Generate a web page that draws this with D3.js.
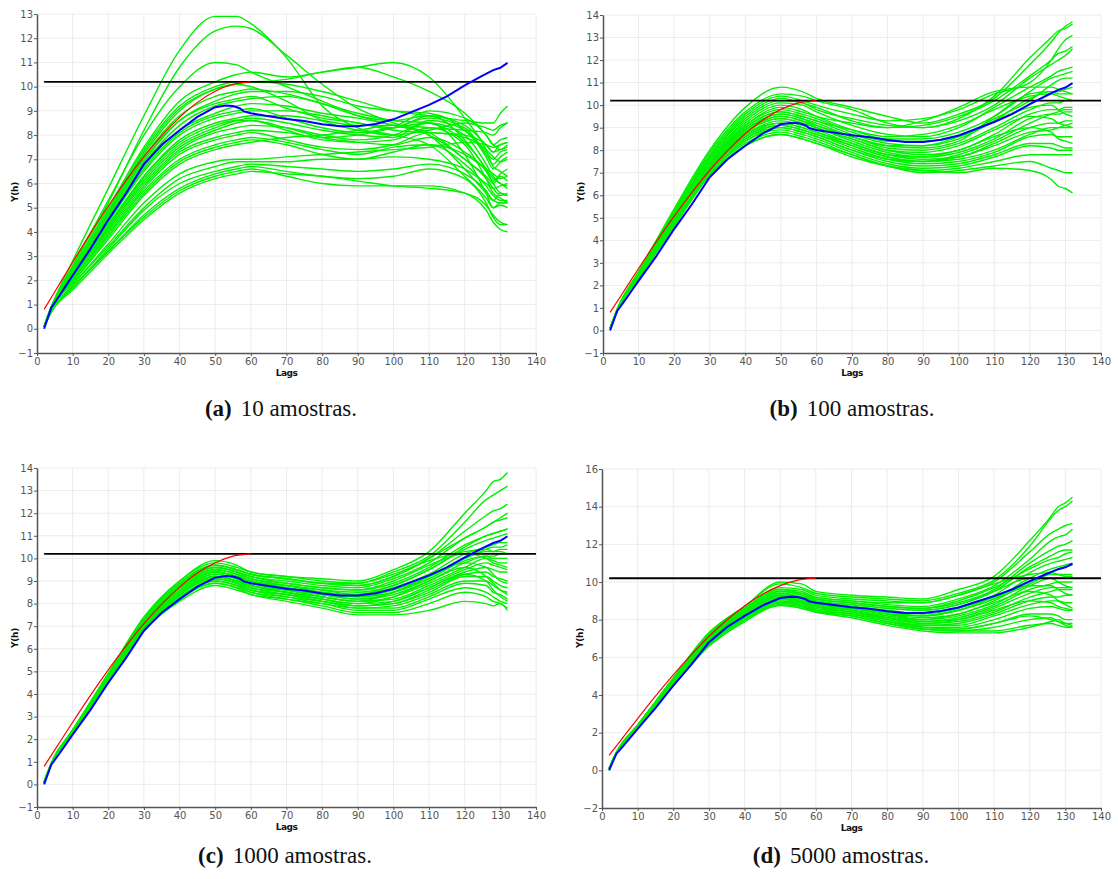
<!DOCTYPE html>
<html>
<head>
<meta charset="utf-8">
<script src="https://cdn.jsdelivr.net/npm/d3@7"></script>
<style>
  body { margin: 0; background: #fff; }
  .tick text { font-family: "DejaVu Sans", sans-serif; }
</style>
</head>
<body>
<svg id="fig" width="1118" height="879"></svg>
<script>
// Lags at which each simulated variogram is sampled
const lags = [2, 4, 10, 20, 30, 40, 50, 56, 60, 70, 80, 90, 100, 110, 120, 126, 128, 130, 132];

// Reference experimental variogram (blue)
const refLags = [2, 4, 6, 8, 10, 15, 20, 25, 30, 35, 40, 45, 50, 53, 55, 57, 58, 60, 65, 70, 75, 80, 85, 90, 95, 100, 105, 110, 115, 120, 125, 128, 130, 132];
const refGamma = [0.0, 0.87, 1.3, 1.75, 2.2, 3.3, 4.5, 5.6, 6.8, 7.6, 8.2, 8.75, 9.15, 9.22, 9.2, 9.1, 8.98, 8.9, 8.78, 8.66, 8.58, 8.45, 8.36, 8.36, 8.46, 8.65, 8.95, 9.25, 9.6, 10.05, 10.45, 10.68, 10.78, 10.98];

// Fitted model (red)
const modelLags = [2, 5, 10, 15, 20, 25, 30, 35, 40, 45, 50, 55, 60];
const modelGamma = [0.8, 1.53, 2.75, 3.94, 5.07, 6.13, 7.11, 7.98, 8.73, 9.35, 9.81, 10.1, 10.2];

// Sill (black)
const sill = 10.2;
const sillLags = [2, 140];

// Simulated variograms (green), one list per number of samples
const sims10 = [
  [0.1,0.9,2.8,5.8,8.8,11.5,12.9,12.9,12.6,11.2,9.2,8.3,8.0,7.6,6.3,5.4,5.0,5.2,5.2],
  [0.1,0.9,2.6,5.2,8.2,10.8,12.3,12.5,12.4,11.3,10.1,9.1,8.5,8.0,6.6,5.6,5.3,5.6,5.5],
  [0.1,0.9,2.6,5.3,8.0,10.0,11.0,10.9,10.6,10.0,9.4,8.8,8.4,8.1,7.0,6.3,6.0,6.3,6.1],
  [0.1,0.9,2.5,5.0,7.5,9.4,10.2,10.5,10.6,10.4,10.6,10.8,11.0,10.4,8.7,7.4,6.7,6.5,6.3],
  [0.1,0.9,2.5,4.9,7.4,9.2,10.0,10.2,10.2,10.3,10.6,10.8,10.4,9.8,8.9,8.0,7.6,7.8,7.9],
  [0.1,0.9,2.4,4.8,7.3,9.1,9.9,10.1,10.2,10.1,9.8,9.4,9.0,8.8,8.6,8.5,8.5,8.9,9.2],
  [0.1,0.9,2.4,4.8,7.2,9.0,9.9,10.1,10.0,9.4,8.6,8.2,8.0,8.2,8.5,8.3,8.2,8.4,8.5],
  [0.1,0.9,2.4,4.7,7.1,8.8,9.6,9.8,9.9,9.7,9.3,8.8,8.6,8.8,7.8,6.6,6.2,6.0,5.8],
  [0.1,0.9,2.3,4.6,6.9,8.6,9.4,9.7,9.8,9.8,9.6,9.2,9.0,8.9,8.2,7.2,6.8,7.1,7.3],
  [0.1,0.9,2.3,4.5,6.8,8.4,9.2,9.4,9.5,9.6,9.3,8.9,8.6,8.5,7.7,6.6,6.1,6.4,6.6],
  [0.1,0.8,2.2,4.4,6.5,8.0,8.7,8.9,9.0,9.0,8.8,8.5,8.3,8.8,8.4,7.6,7.3,7.6,7.7],
  [0.1,0.8,2.2,4.3,6.3,7.8,8.5,8.7,8.8,8.8,8.6,8.4,8.4,9.0,8.7,8.0,7.6,7.4,7.6],
  [0.1,0.8,2.1,4.2,6.2,7.6,8.3,8.6,8.7,8.5,8.2,8.0,7.9,8.6,8.2,7.1,6.6,6.9,7.1],
  [0.1,0.8,2.1,4.1,6.1,7.5,8.2,8.5,8.6,8.2,7.8,7.7,7.8,8.3,7.6,6.2,5.6,5.4,5.2],
  [0.1,0.8,2.1,4.1,6.0,7.4,8.1,8.3,8.4,8.3,8.0,7.8,8.0,8.5,8.0,6.8,6.3,6.0,5.9],
  [0.1,0.8,2.0,4.0,5.9,7.3,7.9,8.1,8.2,8.1,7.9,8.0,8.3,8.7,8.3,7.3,7.0,7.3,7.4],
  [0.1,0.8,2.0,3.9,5.8,7.2,7.8,8.0,8.1,7.8,7.5,7.4,7.6,8.1,7.9,7.4,7.1,6.9,7.0],
  [0.1,0.8,2.0,3.9,5.7,7.0,7.6,7.8,7.9,7.7,7.4,7.2,7.5,7.6,6.8,5.9,5.5,5.3,5.3],
  [0.1,0.8,1.9,3.8,5.6,6.9,7.5,7.7,7.8,7.6,7.2,7.0,7.3,7.6,7.2,6.6,6.4,6.2,6.3],
  [0.1,0.8,1.9,3.7,5.5,6.8,7.4,7.6,7.7,7.9,8.0,8.2,8.4,8.3,8.2,8.1,8.0,8.3,8.5],
  [0.1,0.7,1.8,3.5,5.2,6.4,6.9,7.0,7.0,7.1,7.2,7.3,7.4,7.5,7.7,7.6,7.5,7.6,7.7],
  [0.1,0.7,1.8,3.4,5.0,6.2,6.7,6.9,6.9,6.9,7.0,7.0,7.1,7.0,6.6,6.0,5.8,5.9,6.0],
  [0.1,0.7,1.7,3.3,4.9,6.0,6.5,6.7,6.8,6.7,6.6,6.5,6.6,6.8,6.4,5.7,5.3,5.2,5.2],
  [0.1,0.7,1.7,3.2,4.7,5.8,6.4,6.6,6.7,6.5,6.3,6.2,6.3,6.6,6.2,5.2,4.6,4.3,4.3],
  [0.1,0.7,1.7,3.2,4.6,5.7,6.3,6.5,6.6,6.3,6.0,5.9,5.9,5.9,5.6,4.9,4.4,4.1,4.0],
  [0.1,0.7,1.6,3.1,4.5,5.6,6.2,6.4,6.5,6.4,6.3,6.1,5.9,5.8,5.6,5.1,4.7,4.4,4.3],
  [0.1,0.8,2.2,4.4,6.6,8.1,8.8,9.0,9.1,8.7,8.3,8.1,8.3,8.5,7.2,5.6,5.0,5.1,5.0],
  [0.1,0.8,2.3,4.5,6.7,8.2,8.9,9.2,9.3,9.2,8.9,8.7,8.4,8.0,7.0,6.2,5.8,5.5,5.6],
  [0.1,0.9,2.4,4.7,7.0,8.6,9.3,9.5,9.6,9.1,8.7,8.5,8.2,8.1,8.0,7.6,7.3,7.4,7.5],
  [0.1,0.8,2.1,4.2,6.3,7.7,8.4,8.6,8.6,8.3,7.9,7.7,7.6,7.9,7.3,6.5,6.0,5.6,5.5]
];

const sims100 = [
  [0.1,0.95,2.6,5.4,8.0,9.9,10.8,10.6,10.3,9.9,9.5,9.2,9.6,10.3,11.8,12.8,13.2,13.5,13.7],
  [0.1,0.95,2.6,5.3,7.9,9.7,10.5,10.4,10.2,9.8,9.2,9.0,9.4,10.4,12.1,13.0,13.3,13.4,13.6],
  [0.1,0.95,2.6,5.3,7.8,9.6,10.4,10.2,10.0,9.6,9.3,9.4,9.8,10.5,11.0,12.0,12.5,12.9,13.1],
  [0.1,0.9,2.5,5.2,7.7,9.5,10.3,10.1,9.9,9.3,9.0,9.1,9.5,10.2,11.3,12.0,12.3,12.4,12.6],
  [0.1,0.9,2.5,5.2,7.6,9.3,10.1,10.0,9.7,9.1,8.7,8.6,9.0,9.9,10.8,11.3,11.5,11.6,11.7],
  [0.1,0.9,2.5,5.1,7.6,9.2,10.0,9.8,9.5,8.9,8.5,8.5,8.8,9.5,10.6,11.2,11.3,11.4,11.5],
  [0.1,0.9,2.5,5.1,7.5,9.1,9.8,9.6,9.4,8.8,8.4,8.4,8.6,9.4,10.2,10.9,11.1,11.2,11.2],
  [0.1,0.9,2.5,5.0,7.5,9.0,9.7,9.5,9.3,8.7,8.3,8.2,8.5,9.3,10.3,10.6,10.6,10.7,10.8],
  [0.1,0.9,2.4,5.0,7.4,8.9,9.6,9.4,9.2,8.6,8.2,8.1,8.4,9.5,10.5,10.6,10.5,10.5,10.5],
  [0.1,0.9,2.4,5.0,7.4,8.9,9.5,9.3,9.1,8.6,8.1,8.0,8.3,9.0,9.8,10.1,10.1,10.2,10.2],
  [0.1,0.9,2.4,4.9,7.3,8.8,9.5,9.3,9.0,8.5,8.0,7.8,8.0,8.7,9.6,9.8,9.8,9.9,9.9],
  [0.1,0.9,2.4,4.9,7.3,8.8,9.4,9.2,9.0,8.4,7.9,7.7,7.9,8.5,9.4,9.6,9.6,9.7,9.7],
  [0.1,0.9,2.4,4.9,7.2,8.7,9.3,9.1,8.9,8.3,7.8,7.6,7.7,8.3,9.0,9.2,9.2,9.3,9.3],
  [0.1,0.9,2.4,4.8,7.2,8.7,9.2,9.0,8.8,8.2,7.7,7.5,7.6,8.0,8.7,9.0,9.0,9.0,9.0],
  [0.1,0.9,2.4,4.8,7.1,8.6,9.1,8.9,8.7,8.1,7.6,7.4,7.5,7.9,8.6,8.7,8.6,8.6,8.6],
  [0.1,0.9,2.4,4.8,7.1,8.5,9.0,8.8,8.6,8.0,7.5,7.3,7.4,7.8,8.3,8.3,8.2,8.1,8.1],
  [0.1,0.9,2.3,4.7,7.0,8.4,8.9,8.7,8.5,7.9,7.4,7.2,7.3,7.7,8.2,8.1,8.0,8.0,8.0],
  [0.1,0.9,2.3,4.7,7.0,8.3,8.8,8.6,8.4,7.8,7.3,7.1,7.2,7.5,7.8,7.8,7.8,7.8,7.8],
  [0.1,0.9,2.3,4.7,6.9,8.2,8.7,8.5,8.3,7.8,7.3,7.0,7.1,7.3,7.5,7.2,7.1,7.0,7.0],
  [0.1,0.9,2.3,4.6,6.9,8.2,8.7,8.5,8.3,7.7,7.3,7.1,7.0,7.2,7.1,6.7,6.4,6.3,6.1],
  [0.1,0.9,2.5,5.1,7.5,9.1,9.9,9.7,9.5,9.2,9.0,9.3,9.9,10.6,10.8,10.8,10.7,10.6,10.5],
  [0.1,0.9,2.5,5.0,7.4,9.0,9.7,9.5,9.3,8.9,8.6,8.7,9.1,9.8,10.4,10.5,10.4,10.3,10.2],
  [0.1,0.9,2.4,4.9,7.3,8.9,9.6,9.4,9.1,8.6,8.2,8.2,8.6,9.3,9.9,10.0,9.8,9.6,9.5],
  [0.1,0.9,2.4,4.9,7.3,8.8,9.4,9.2,9.0,8.5,8.0,7.9,8.2,8.9,9.5,9.4,9.2,9.1,9.0],
  [0.1,0.9,2.4,4.8,7.2,8.6,9.2,9.0,8.8,8.3,7.8,7.7,8.0,8.6,9.0,8.8,8.5,8.4,8.3],
  [0.1,0.9,2.4,4.8,7.1,8.5,9.1,8.9,8.7,8.2,7.7,7.5,7.7,8.2,8.8,8.9,9.0,9.1,9.2],
  [0.1,0.9,2.3,4.7,7.0,8.4,9.0,8.8,8.6,8.0,7.6,7.5,7.8,8.4,9.2,9.6,9.7,9.8,9.8],
  [0.1,0.9,2.5,5.2,7.7,9.4,10.2,10.1,9.8,9.4,9.1,9.0,9.3,10.0,11.2,11.8,12.0,12.2,12.5]
];

const sims1000 = [
  [0.1,0.95,2.4,4.9,7.4,9.0,9.9,9.7,9.4,9.2,9.1,9.0,9.5,10.3,12.0,13.0,13.4,13.5,13.8],
  [0.1,0.95,2.4,4.9,7.4,9.0,9.8,9.6,9.4,9.2,9.0,8.9,9.4,10.1,11.6,12.6,12.8,13.0,13.2],
  [0.1,0.9,2.4,4.9,7.3,8.9,9.7,9.5,9.3,9.1,8.9,8.8,9.2,10.0,11.2,11.9,12.1,12.2,12.4],
  [0.1,0.9,2.4,4.8,7.3,8.9,9.6,9.4,9.2,9.0,8.8,8.7,9.1,9.8,10.9,11.4,11.6,11.7,11.8],
  [0.1,0.9,2.4,4.8,7.2,8.8,9.6,9.4,9.1,8.9,8.7,8.6,8.9,9.6,10.6,11.0,11.1,11.2,11.3],
  [0.1,0.9,2.4,4.8,7.2,8.8,9.5,9.3,9.1,8.8,8.6,8.5,8.8,9.5,10.4,10.8,10.9,11.0,11.1],
  [0.1,0.9,2.3,4.8,7.2,8.7,9.5,9.3,9.0,8.8,8.5,8.4,8.7,9.3,10.2,10.5,10.6,10.7,10.7],
  [0.1,0.9,2.3,4.7,7.1,8.7,9.4,9.2,9.0,8.7,8.5,8.3,8.6,9.2,10.0,10.3,10.3,10.4,10.4],
  [0.1,0.9,2.3,4.7,7.1,8.6,9.4,9.2,8.9,8.7,8.4,8.3,8.5,9.1,9.9,10.1,10.1,10.2,10.2],
  [0.1,0.9,2.3,4.7,7.1,8.6,9.3,9.1,8.9,8.6,8.4,8.2,8.4,9.0,9.8,10.1,10.0,10.0,10.0],
  [0.1,0.9,2.3,4.7,7.0,8.5,9.3,9.1,8.8,8.6,8.3,8.1,8.3,8.9,9.6,10.0,9.9,9.8,9.8],
  [0.1,0.9,2.3,4.6,7.0,8.5,9.2,9.0,8.8,8.5,8.3,8.1,8.2,8.8,9.5,9.8,9.7,9.6,9.5],
  [0.1,0.9,2.3,4.6,7.0,8.4,9.2,9.0,8.7,8.5,8.2,8.0,8.1,8.7,9.4,9.6,9.5,9.4,9.4],
  [0.1,0.9,2.3,4.6,6.9,8.4,9.1,8.9,8.7,8.4,8.2,7.9,8.0,8.6,9.3,9.4,9.2,9.1,9.0],
  [0.1,0.9,2.3,4.6,6.9,8.4,9.1,8.9,8.6,8.4,8.1,7.9,8.0,8.5,9.2,9.2,9.0,8.8,8.7],
  [0.1,0.9,2.3,4.6,6.9,8.3,9.0,8.8,8.6,8.3,8.1,7.8,7.9,8.4,9.0,9.0,8.8,8.6,8.5],
  [0.1,0.9,2.3,4.6,6.9,8.3,9.0,8.8,8.5,8.3,8.0,7.8,7.8,8.3,8.9,8.8,8.5,8.4,8.2],
  [0.1,0.9,2.3,4.5,6.8,8.2,8.9,8.7,8.5,8.2,8.0,7.7,7.7,8.2,8.7,8.5,8.3,8.1,8.0],
  [0.1,0.9,2.3,4.5,6.8,8.2,8.9,8.7,8.4,8.2,7.9,7.6,7.6,8.0,8.5,8.3,8.1,8.0,7.8],
  [0.1,0.9,2.3,4.5,6.8,8.1,8.8,8.6,8.4,8.1,7.8,7.5,7.5,7.7,8.1,8.0,7.9,8.0,7.7],
  [0.1,0.9,2.4,4.8,7.3,8.9,9.7,9.5,9.3,9.1,8.9,8.9,9.3,9.9,10.3,10.4,10.3,10.3,10.2],
  [0.1,0.9,2.4,4.7,7.2,8.8,9.6,9.4,9.2,8.9,8.7,8.6,9.0,9.7,10.2,10.0,9.8,9.7,9.6],
  [0.1,0.9,2.3,4.7,7.1,8.6,9.4,9.2,9.0,8.7,8.4,8.2,8.5,9.2,9.8,9.6,9.3,9.0,8.9],
  [0.1,0.9,2.3,4.6,7.0,8.5,9.2,9.0,8.8,8.5,8.2,8.0,8.3,9.0,9.6,9.2,8.9,8.6,8.4],
  [0.1,0.9,2.3,4.6,6.9,8.4,9.1,8.9,8.6,8.4,8.1,7.9,8.1,8.7,9.3,9.0,8.6,8.3,8.1],
  [0.1,0.9,2.4,4.8,7.3,8.9,9.7,9.5,9.3,9.1,8.9,8.8,9.2,10.0,10.9,11.4,11.6,11.8,12.0],
  [0.1,0.9,2.3,4.7,7.1,8.7,9.4,9.2,9.0,8.8,8.6,8.4,8.8,9.5,10.5,11.0,11.1,11.2,11.3],
  [0.1,0.9,2.3,4.6,7.0,8.5,9.2,9.0,8.8,8.6,8.3,8.1,8.5,9.2,10.0,10.4,10.5,10.5,10.6]
];

const sims5000 = [
  [0.1,0.95,2.4,4.9,7.3,8.7,10.0,9.9,9.5,9.3,9.2,9.1,9.6,10.3,12.2,13.5,14.0,14.2,14.5],
  [0.1,0.95,2.4,4.9,7.3,8.7,9.9,9.7,9.4,9.2,9.1,9.0,9.4,10.1,11.9,13.4,13.8,14.0,14.3],
  [0.1,0.9,2.4,4.8,7.2,8.6,9.7,9.6,9.3,9.1,9.0,8.9,9.3,10.0,11.6,12.6,12.8,13.0,13.1],
  [0.1,0.9,2.4,4.8,7.2,8.6,9.6,9.5,9.2,9.0,8.8,8.7,9.1,9.8,11.2,12.2,12.4,12.5,12.8],
  [0.1,0.9,2.4,4.8,7.1,8.5,9.5,9.4,9.1,8.9,8.7,8.6,8.9,9.6,11.0,11.7,11.9,12.0,12.2],
  [0.1,0.9,2.4,4.8,7.1,8.5,9.5,9.3,9.0,8.8,8.6,8.5,8.8,9.5,10.8,11.4,11.6,11.7,11.7],
  [0.1,0.9,2.3,4.7,7.0,8.4,9.4,9.2,9.0,8.7,8.5,8.3,8.6,9.3,10.5,11.0,11.1,11.2,11.3],
  [0.1,0.9,2.3,4.7,7.0,8.4,9.3,9.2,8.9,8.7,8.4,8.2,8.5,9.1,10.2,10.7,10.8,10.9,11.0],
  [0.1,0.9,2.3,4.7,7.0,8.3,9.3,9.1,8.9,8.6,8.3,8.1,8.3,9.0,10.0,10.4,10.4,10.4,10.4],
  [0.1,0.9,2.3,4.7,6.9,8.3,9.2,9.1,8.8,8.6,8.3,8.0,8.2,8.8,9.8,10.2,10.2,10.2,10.2],
  [0.1,0.9,2.3,4.6,6.9,8.3,9.2,9.0,8.8,8.5,8.2,7.9,8.1,8.7,9.6,9.9,10.0,10.0,10.0],
  [0.1,0.9,2.3,4.6,6.9,8.2,9.1,9.0,8.7,8.5,8.1,7.8,8.0,8.6,9.4,9.7,9.7,9.7,9.7],
  [0.1,0.9,2.3,4.6,6.8,8.2,9.1,8.9,8.7,8.4,8.1,7.8,7.9,8.4,9.2,9.5,9.6,9.6,9.6],
  [0.1,0.9,2.3,4.6,6.8,8.1,9.0,8.9,8.6,8.4,8.0,7.7,7.8,8.3,9.0,9.2,9.2,9.3,9.3],
  [0.1,0.9,2.3,4.6,6.8,8.1,9.0,8.8,8.6,8.3,8.0,7.7,7.7,8.2,8.8,9.0,9.0,8.9,8.9],
  [0.1,0.9,2.3,4.5,6.7,8.1,8.9,8.8,8.5,8.3,7.9,7.6,7.6,8.0,8.6,8.7,8.6,8.5,8.5],
  [0.1,0.9,2.3,4.5,6.7,8.0,8.9,8.7,8.5,8.3,7.9,7.6,7.5,7.8,8.3,8.3,8.2,8.0,8.0],
  [0.1,0.9,2.3,4.5,6.7,8.0,8.8,8.7,8.4,8.2,7.8,7.5,7.4,7.6,8.0,8.1,7.9,7.8,7.8],
  [0.1,0.9,2.3,4.5,6.6,7.9,8.8,8.6,8.4,8.2,7.8,7.5,7.4,7.4,7.7,7.8,7.7,7.6,7.6],
  [0.1,0.9,2.3,4.5,6.6,7.9,8.75,8.6,8.4,8.1,7.7,7.4,7.3,7.3,7.6,7.9,8.0,7.8,7.7],
  [0.1,0.9,2.4,4.8,7.2,8.6,9.6,9.4,9.2,9.0,8.9,8.9,9.3,9.9,10.4,10.5,10.4,10.3,10.3],
  [0.1,0.9,2.3,4.7,7.0,8.4,9.4,9.2,9.0,8.8,8.6,8.5,8.8,9.5,10.2,10.2,10.0,9.8,9.7],
  [0.1,0.9,2.3,4.7,7.0,8.4,9.3,9.1,8.9,8.6,8.3,8.2,8.5,9.2,9.8,9.8,9.6,9.4,9.3],
  [0.1,0.9,2.3,4.6,6.9,8.3,9.2,9.0,8.8,8.5,8.2,8.0,8.3,8.9,9.5,9.3,9.0,8.8,8.6],
  [0.1,0.9,2.3,4.6,6.8,8.2,9.1,8.9,8.7,8.4,8.1,7.9,8.0,8.5,9.0,8.9,8.7,8.6,8.5],
  [0.1,0.9,2.3,4.5,6.7,8.1,8.9,8.8,8.5,8.2,7.8,7.5,7.5,7.8,8.2,8.0,7.9,7.7,7.6],
  [0.1,0.9,2.4,4.8,7.1,8.5,9.5,9.3,9.1,8.9,8.7,8.6,9.0,9.7,10.7,11.2,11.3,11.5,11.6],
  [0.1,0.9,2.3,4.7,7.0,8.4,9.3,9.1,8.9,8.6,8.4,8.2,8.5,9.1,9.9,10.5,10.7,10.8,10.9]
];

// Axis ticks per panel
const xTicks = [0, 10, 20, 30, 40, 50, 60, 70, 80, 90, 100, 110, 120, 130, 140];
const yTicksA = [-1, 0, 1, 2, 3, 4, 5, 6, 7, 8, 9, 10, 11, 12, 13];
const yTicksB = [-1, 0, 1, 2, 3, 4, 5, 6, 7, 8, 9, 10, 11, 12, 13, 14];
const yTicksD = [-2, 0, 2, 4, 6, 8, 10, 12, 14, 16];

// Captions
const captionLetters = ["(a)", "(b)", "(c)", "(d)"];
const captionTexts = ["10 amostras.", "100 amostras.", "1000 amostras.", "5000 amostras."];

const panels = [
  { sims: sims10,   yDomain: [-1, 13], yTicks: yTicksA, left: 37,  right: 536,  top: 14,  bottom: 353, capX: 281, capY: 416 },
  { sims: sims100,  yDomain: [-1, 14], yTicks: yTicksB, left: 603, right: 1101, top: 15,  bottom: 353, capX: 852, capY: 416 },
  { sims: sims1000, yDomain: [-1, 14], yTicks: yTicksB, left: 37,  right: 536,  top: 468, bottom: 807, capX: 285, capY: 863 },
  { sims: sims5000, yDomain: [-2, 16], yTicks: yTicksD, left: 602, right: 1101, top: 469, bottom: 808, capX: 841, capY: 863 }
];

const svg = d3.select("#fig");
const GREEN = "#00f000";

panels.forEach((p, i) => {
  const x = d3.scaleLinear().domain([0, 140]).range([p.left, p.right]);
  const y = d3.scaleLinear().domain(p.yDomain).range([p.bottom, p.top]);
  const g = svg.append("g");

  // grid
  g.append("g").selectAll("line").data(xTicks.slice(1)).join("line")
    .attr("x1", d => x(d)).attr("x2", d => x(d))
    .attr("y1", p.bottom).attr("y2", p.top)
    .attr("stroke", "#ececec").attr("stroke-width", 1);
  g.append("g").selectAll("line").data(p.yTicks.slice(1)).join("line")
    .attr("x1", p.left).attr("x2", p.right)
    .attr("y1", d => y(d)).attr("y2", d => y(d))
    .attr("stroke", "#ececec").attr("stroke-width", 1);

  // axes
  const xAxis = d3.axisBottom(x).tickValues(xTicks).tickSize(3).tickPadding(2).tickSizeOuter(0);
  const yAxis = d3.axisLeft(y).tickValues(p.yTicks).tickSize(3).tickPadding(1).tickSizeOuter(0);
  const gx = g.append("g").attr("transform", `translate(0,${p.bottom})`).call(xAxis);
  const gy = g.append("g").attr("transform", `translate(${p.left},0)`).call(yAxis);
  [gx, gy].forEach(ax => {
    ax.select(".domain").attr("stroke", "#555").attr("stroke-width", 1.5);
    ax.selectAll(".tick line").attr("stroke", "#555");
    ax.selectAll(".tick text").attr("fill", "#555").attr("font-size", 10);
  });

  const line = d3.line().x(d => x(d[0])).y(d => y(d[1])).curve(d3.curveMonotoneX);

  // simulated variograms
  g.append("g").selectAll("path").data(p.sims).join("path")
    .attr("d", s => line(s.map((v, k) => [lags[k], v])))
    .attr("fill", "none").attr("stroke", GREEN).attr("stroke-width", 1.4);

  // sill
  g.append("path")
    .attr("d", d3.line().x(d => x(d)).y(() => y(sill))(sillLags))
    .attr("fill", "none").attr("stroke", "#000").attr("stroke-width", 1.8);

  // fitted model
  g.append("path")
    .attr("d", line(modelLags.map((h, k) => [h, modelGamma[k]])))
    .attr("fill", "none").attr("stroke", "#ff0000").attr("stroke-width", 1.2);

  // reference variogram
  g.append("path")
    .attr("d", d3.line().x(d => x(d[0])).y(d => y(d[1]))(refLags.map((h, k) => [h, refGamma[k]])))
    .attr("fill", "none").attr("stroke", "#0000ff").attr("stroke-width", 2);

  // axis titles
  g.append("text")
    .attr("x", (p.left + p.right) / 2).attr("y", p.bottom + 23)
    .attr("text-anchor", "middle").attr("font-family", "DejaVu Sans, sans-serif")
    .attr("font-size", 9).attr("font-weight", "bold").attr("letter-spacing", -0.5)
    .attr("fill", "#111").text("Lags");
  const ly = i < 2 ? 192 : 638;
  const lx = p.left - 22;
  g.append("text")
    .attr("transform", `translate(${lx},${ly}) rotate(-90)`)
    .attr("text-anchor", "middle").attr("dy", "0.35em").attr("font-family", "DejaVu Sans, sans-serif")
    .attr("font-size", 9).attr("font-weight", "bold").attr("letter-spacing", -0.3)
    .attr("fill", "#111").text("Y(h)");

  // caption
  const cap = svg.append("text")
    .attr("x", p.capX).attr("y", p.capY)
    .attr("text-anchor", "middle")
    .attr("font-family", "Liberation Serif, serif").attr("font-size", 23).attr("fill", "#111");
  cap.append("tspan").attr("font-weight", "bold").text(captionLetters[i]);
  cap.append("tspan").attr("dx", 9).text(captionTexts[i]);
});
</script>
</body>
</html>
